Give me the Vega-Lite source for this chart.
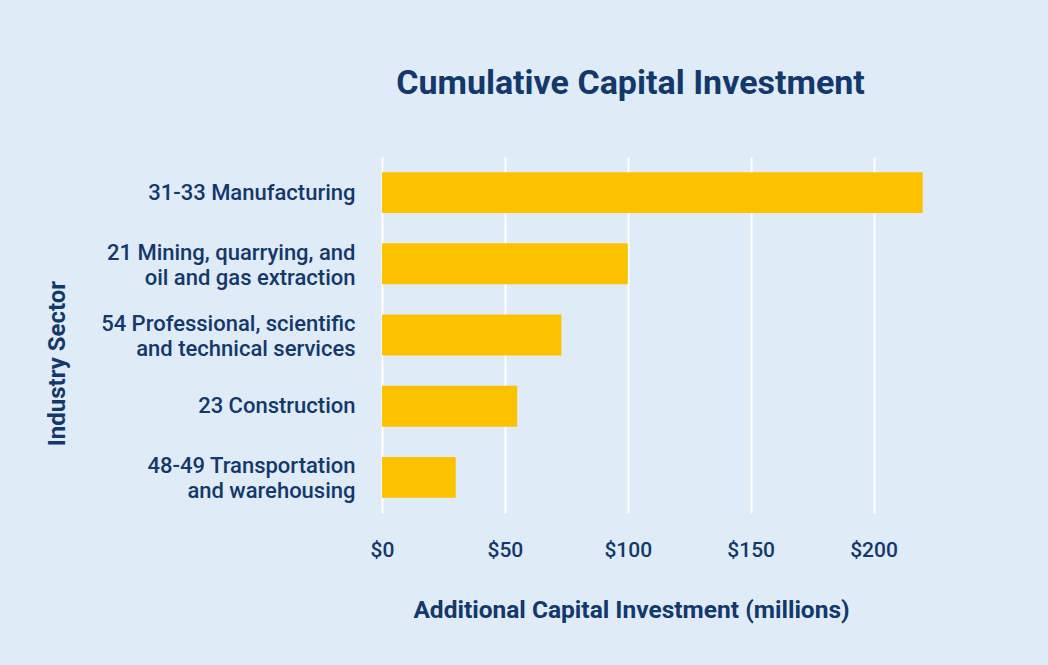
{
  "$schema": "https://vega.github.io/schema/vega-lite/v6.json",
  "width": 553,
  "height": 356,
  "autosize": {"type": "none"},
  "padding": {"left": 382, "top": 157, "right": 113, "bottom": 152},
  "background": "#dfebf6",
  "title": {
    "text": "Cumulative Capital Investment",
    "font": "Roboto",
    "fontSize": 34,
    "fontWeight": "bold",
    "color": "#13386b",
    "anchor": "middle",
    "frame": "group",
    "dx": -28,
    "offset": 56
  },
  "data": {
    "values": [
      {"sector": "31-33 Manufacturing", "value": 220},
      {"sector": "21 Mining, quarrying, and\noil and gas extraction", "value": 100},
      {"sector": "54 Professional, scientific\nand technical services", "value": 73},
      {"sector": "23 Construction", "value": 55},
      {"sector": "48-49 Transportation\nand warehousing", "value": 30}
    ]
  },
  "mark": {"type": "bar", "color": "#fcc200"},
  "encoding": {
    "y": {
      "field": "sector",
      "type": "nominal",
      "sort": null,
      "scale": {"paddingInner": 0.425, "paddingOuter": 0.2125},
      "axis": {
        "title": "Industry Sector",
        "labelExpr": "split(datum.label, '\\n')",
        "labelFont": "Roboto",
        "labelFontSize": 22,
        "labelFontWeight": 500,
        "labelColor": "#13386b",
        "labelLineHeight": 25,
        "labelOffset": {"condition": {"test": "indexof(datum.value, '\\n') >= 0", "value": -11}, "value": 0},
        "labelPadding": 27,
        "labelLimit": 400,
        "ticks": false,
        "tickSize": 0,
        "domain": false,
        "grid": false,
        "titleFont": "Roboto",
        "titleFontSize": 24,
        "titleFontWeight": "bold",
        "titleColor": "#13386b",
        "titleAngle": -90,
        "titleX": -325,
        "titleY": 206,
        "titleAlign": "center",
        "titleBaseline": "middle"
      }
    },
    "x": {
      "field": "value",
      "type": "quantitative",
      "scale": {"domain": [0, 225], "nice": false},
      "axis": {
        "title": "Additional Capital Investment (millions)",
        "values": [0, 50, 100, 150, 200],
        "labelExpr": "'$' + datum.value",
        "labelFont": "Roboto",
        "labelFontSize": 21,
        "labelFontWeight": 500,
        "labelColor": "#13386b",
        "labelPadding": 26,
        "labelFlush": false,
        "ticks": false,
        "tickSize": 0,
        "domain": false,
        "grid": true,
        "gridColor": "#ffffff",
        "gridWidth": 2,
        "gridOpacity": 1,
        "titleFont": "Roboto",
        "titleFontSize": 24.5,
        "titleFontWeight": "bold",
        "titleColor": "#13386b",
        "titleX": 249,
        "titleY": 97,
        "titleAlign": "center",
        "titleBaseline": "middle"
      }
    }
  },
  "config": {"view": {"stroke": null}}
}
